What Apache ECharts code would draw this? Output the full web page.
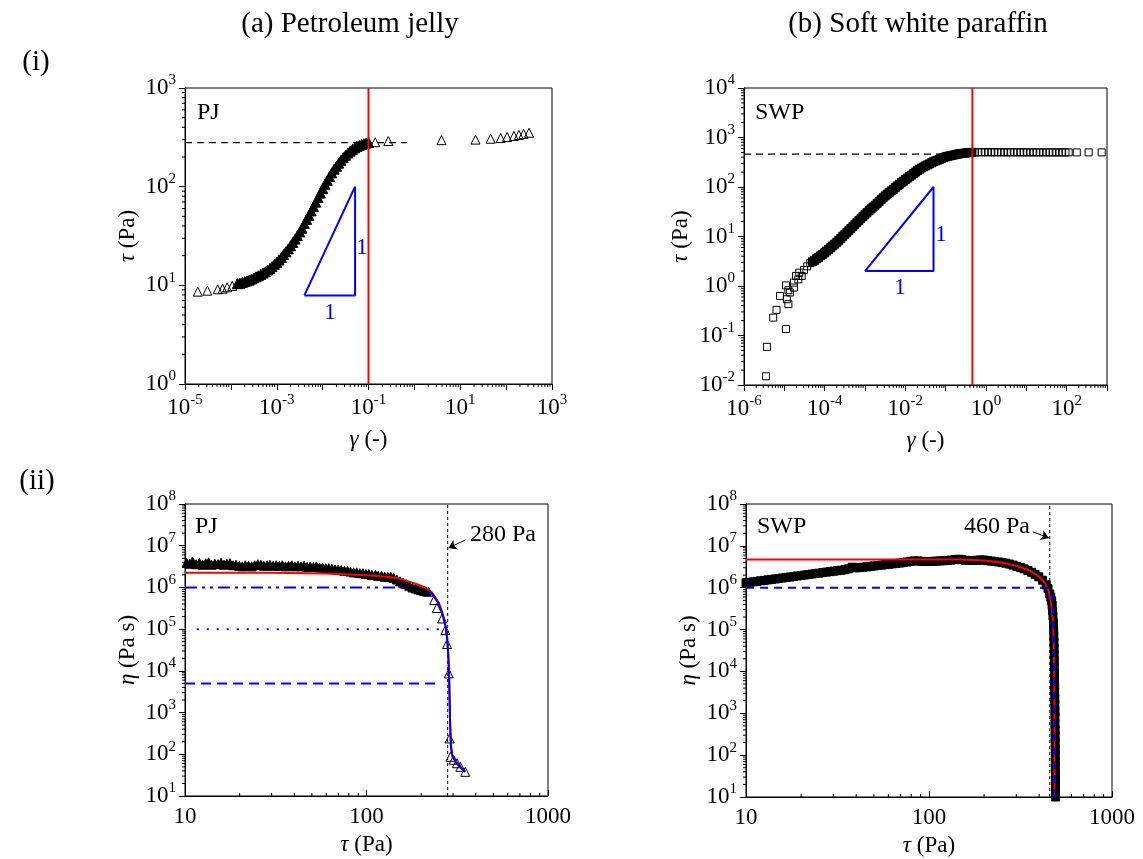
<!DOCTYPE html>
<html><head><meta charset="utf-8">
<script src="https://cdn.jsdelivr.net/npm/echarts@6/dist/echarts.min.js"></script>
<style>html,body{margin:0;padding:0;background:#fff}#c{width:1143px;height:859px}</style>
</head><body><div id="c"></div><script>
// ---------------- DATA ----------------
// (a)(i) Petroleum jelly: gamma (-), tau (Pa)
const pjStrainSparse = [[1.9e-5,8.63],[3.07e-5,8.83],[5.16e-5,9.12],[6.6e-5,9.25],[8.3e-5,9.55],[1.07e-4,9.86],[1.35e-4,10.3],
  [0.14,282],[0.27,290],[3.9,296],[21.5,300],[46,306],[76,311],[105,319],[148,327],[190,334],[240,343],[316,352]];
const pjStrainDense = [[1.41e-4,10.4],[1.58e-4,10.5],[1.78e-4,10.7],[2.0e-4,10.9],[2.24e-4,11.1],[2.51e-4,11.3],[2.82e-4,11.6],[3.16e-4,11.9],
  [3.55e-4,12.2],[3.98e-4,12.5],[4.47e-4,12.9],[5.01e-4,13.3],[5.62e-4,13.7],[6.31e-4,14.3],[7.08e-4,14.8],[7.94e-4,15.5],[8.91e-4,16.3],
  [1.0e-3,17.1],[1.12e-3,18.1],[1.26e-3,19.2],[1.41e-3,20.5],[1.58e-3,21.9],[1.78e-3,23.4],[2.0e-3,25.2],[2.24e-3,27.2],[2.51e-3,29.4],
  [2.82e-3,31.9],[3.16e-3,34.8],[3.55e-3,37.9],[3.98e-3,42.3],[4.47e-3,46.6],[5.01e-3,51.3],[5.62e-3,56.8],[6.31e-3,62.7],[7.08e-3,69.7],
  [7.94e-3,77.4],[8.91e-3,86.1],[0.01,95.9],[0.0112,106],[0.0126,116],[0.0141,127],[0.0158,138],[0.0178,150],[0.02,161],[0.0224,173],
  [0.0251,185],[0.0282,197],[0.0316,208],[0.0355,219],[0.0398,229],[0.0447,239],[0.0501,248],[0.0562,256],[0.0631,262],[0.0708,268],
  [0.0794,273],[0.0891,277],[0.1,280]];
const pjYieldStrain = 0.1;
const pjYieldStress = 280;
const pjSlopeTriangle = [[0.004,7.9],[0.051,100],[0.051,7.9],[0.004,7.9]];

// (b)(i) Soft white paraffin
const swpStrainSparse = [[3.5e-6,0.015],[3.7e-6,0.059],[5.3e-6,0.23],[6.4e-6,0.33],[7.8e-6,0.63],[1.1e-5,0.135],[1.1e-5,1.03],
  [1.15e-5,0.54],[1.26e-5,0.43],[1.26e-5,0.82],[1.38e-5,0.74],[1.73e-5,0.93],[1.73e-5,1.17],[1.95e-5,1.6],[2.22e-5,1.36],
  [2.35e-5,1.86],[2.69e-5,1.6],[3.07e-5,2.1],[3.7e-5,2.5],[4.4e-5,2.9]];
const swpStrainDense = [[5.01e-5,3.09],[5.62e-5,3.31],[6.31e-5,3.55],[7.08e-5,3.80],[7.94e-5,4.07],[8.91e-5,4.37],[1.0e-4,4.68],
  [1.12e-4,5.07],[1.26e-4,5.50],[1.41e-4,5.96],[1.58e-4,6.46],[1.78e-4,7.00],[2.0e-4,7.64],[2.24e-4,8.37],[2.51e-4,9.18],[2.82e-4,10.1],
  [3.16e-4,11.0],[3.55e-4,12.1],[3.98e-4,13.2],[4.47e-4,14.5],[5.01e-4,15.9],[5.62e-4,17.5],[6.31e-4,19.2],[7.08e-4,21.1],[7.94e-4,23.1],
  [8.91e-4,25.4],[1.0e-3,27.9],[1.12e-3,30.3],[1.26e-3,33.1],[1.41e-3,36.1],[1.58e-3,39.4],[1.78e-3,42.9],[2.0e-3,46.8],[2.24e-3,50.9],
  [2.51e-3,55.6],[2.82e-3,60.5],[3.16e-3,66.1],[3.55e-3,71.8],[3.98e-3,77.6],[4.47e-3,83.2],[5.01e-3,89.9],[5.62e-3,96.8],[6.31e-3,105],
  [7.08e-3,113],[7.94e-3,122],[8.91e-3,131],[0.01,141],[0.0112,151],[0.0126,162],[0.0141,173],[0.0158,186],[0.0178,200],[0.02,214],
  [0.0224,229],[0.0251,242],[0.0282,254],[0.0316,267],[0.0355,280],[0.0398,293],[0.0447,308],[0.0501,324],[0.0562,337],[0.0631,349],
  [0.0708,363],[0.0794,378],[0.0891,393],[0.1,407],[0.112,417],[0.126,425],[0.141,434],[0.158,443],[0.178,452],[0.2,461],[0.224,470],
  [0.251,476],[0.282,482],[0.316,486],[0.355,492],[0.398,497],[0.447,501]];
const swpStrainPlateau = [[0.537,502],[0.646,503],[0.776,503],[0.933,503],[1.12,503],[1.35,503],[1.62,503],[1.95,503],[2.34,502],
  [2.82,502],[3.39,502],[4.07,502],[4.9,502],[5.89,502],[7.08,502],[8.51,502],[10.2,501],[12.3,501],[14.8,501],[17.8,501],[21.4,500],
  [25.7,500],[30.9,500],[37.2,500],[44.7,500],[53.7,500],[64.6,500],[77.6,500],[93.3,500],[112,500],[178,500],[350,500],[740,500]];
const swpYieldStrain = 0.46;
const swpYieldStress = 460;
const swpSlopeTriangle = [[0.001,2],[0.05,100],[0.05,2],[0.001,2]];

// (a)(ii) Petroleum jelly flow curve: tau (Pa), eta (Pa s)
const pjFlowDense = [[10.2,3.9e6],[10.6,3.7e6],[11.0,4.2e6],[11.5,3.6e6],[12.0,3.9e6],[12.5,3.5e6],[13.0,3.8e6],[13.5,4.0e6],[14.0,3.5e6],
  [14.6,3.7e6],[15.2,3.6e6],[15.8,3.9e6],[16.4,3.5e6],[17.0,3.7e6],[17.7,3.8e6],[18.4,3.4e6],[19.1,3.5e6],[19.9,3.3e6],[20.7,3.2e6],
  [21.5,3.4e6],[22.4,3.3e6],[23.3,3.2e6],[24.2,3.4e6],[25.2,3.6e6],[26.2,3.5e6],[27.2,3.3e6],[28.3,3.4e6],[29.4,3.5e6],[30.6,3.3e6],
  [31.8,3.4e6],[33.1,3.3e6],[34.4,3.4e6],[35.8,3.2e6],[37.2,3.3e6],[38.7,3.4e6],[40.3,3.2e6],[41.9,3.3e6],[43.6,3.2e6],[45.3,3.3e6],
  [47.1,3.1e6],[49.0,3.2e6],[51.0,3.1e6],[53.0,3.2e6],[55.1,3.0e6],[57.3,3.0e6],[59.6,2.9e6],[62.0,2.9e6],[64.5,2.8e6],[67.1,2.7e6],
  [69.8,2.7e6],[72.6,2.6e6],[75.5,2.5e6],[78.5,2.5e6],[81.6,2.4e6],[84.9,2.3e6],[88.3,2.3e6],[91.8,2.2e6],[95.5,2.2e6],[99.3,2.1e6],
  [103,2.1e6],[107,2.0e6],[112,2.0e6],[116,1.9e6],[121,1.9e6],[126,1.8e6],[131,1.8e6],[136,1.8e6],[141,1.7e6],[147,1.55e6],[153,1.4e6],
  [159,1.3e6],[165,1.2e6],[172,1.1e6],[179,1.0e6],[186,9.5e5],[193,9.0e5],[200,8.6e5],[208,8.2e5],[214,8.0e5]];
const pjFlowSparse = [[220,7.9e5],[236,5.0e5],[244,3.2e5],[261,1.8e5],[272,9.5e4],[278,4.4e4],[284,8.7e3],[287,240],[290,87],
  [302,74],[315,61],[329,50],[350,38]];
const pjFitRed = [[10,2.25e6],[30,2.24e6],[60,2.15e6],[100,1.95e6],[130,1.8e6],[150,1.65e6],[170,1.4e6],[190,1.2e6],[210,1.0e6],
  [230,7.5e5],[250,4.3e5],[262,2.5e5],[272,1.3e5],[278,6.5e4],[282,2.7e4],[285,8.5e3],[287,2.2e3],[289,550],[292,160],[297,95],
  [310,66],[330,49],[350,38]];
const pjFitBlue = [[220,8.5e5],[235,6.2e5],[250,4.0e5],[262,2.3e5],[272,1.2e5],[278,6e4],[282,2.5e4],[285,8e3],[287,2e3],[289,500],
  [292,150],[297,90],[310,65],[330,48],[350,38]];
const pjLevelDashDot = [[10,1e6],[166,1e6]];
const pjLevelDot = [[11.6,1e5],[265,1e5]];
const pjLevelDash = [[10,5e3],[245,5e3]];

// (b)(ii) Soft white paraffin flow curve
const swpFlow = [[10,1.31e6],[10.5,1.35e6],[11.0,1.38e6],[11.5,1.42e6],[12.0,1.46e6],[12.6,1.50e6],[13.2,1.54e6],[13.8,1.58e6],
  [14.5,1.62e6],[15.1,1.66e6],[15.8,1.71e6],[16.6,1.76e6],[17.4,1.80e6],[18.2,1.85e6],[19.1,1.91e6],[20.0,1.95e6],[20.9,2.01e6],
  [21.9,2.06e6],[22.9,2.12e6],[24.0,2.18e6],[25.1,2.23e6],[26.3,2.30e6],[27.5,2.36e6],[28.8,2.42e6],[30.2,2.49e6],[31.6,2.55e6],
  [33.1,2.62e6],[34.7,2.69e6],[36.3,2.82e6],[38.0,3.09e6],[39.8,2.99e6],[41.7,3.02e6],[43.7,3.09e6],[45.7,3.16e6],[47.9,3.24e6],
  [50.1,3.31e6],[52.5,3.39e6],[55.0,3.47e6],[57.5,3.55e6],[60.3,3.63e6],[63.1,3.72e6],[66.1,3.80e6],[69.2,3.89e6],[72.4,3.98e6],
  [75.9,4.12e6],[79.4,4.27e6],[83.2,4.37e6],[87.1,4.35e6],[91.2,4.27e6],[95.5,4.22e6],[100,4.22e6],[105,4.27e6],[110,4.32e6],
  [115,4.37e6],[120,4.42e6],[126,4.47e6],[132,4.57e6],[138,4.68e6],[145,4.79e6],[151,4.73e6],[158,4.52e6],[166,4.47e6],[174,4.47e6],
  [182,4.52e6],[191,4.62e6],[200,4.57e6],[209,4.42e6],[219,4.32e6],[229,4.22e6],[240,4.12e6],[251,3.98e6],[263,3.85e6],[275,3.67e6],
  [288,3.47e6],[302,3.24e6],[316,3.02e6],[331,2.82e6],[347,2.57e6],[363,2.34e6],[380,2.09e6],[398,1.82e6],[417,1.51e6],[437,1.17e6],
  [447,9.5e5],[457,7.1e5],[463,5.9e5],[468,4.8e5],[471,3.8e5],[473,2.8e5],[476,2.1e5],[479,1.4e5],[480,1.0e5],[481,7e4],[482,5e4],
  [483,3.5e4],[483,2.5e4],[484,1.8e4],[484,1.25e4],[485,9e3],[485,6.3e3],[486,4.5e3],[486,3.2e3],[487,2.2e3],[487,1.6e3],[488,1.1e3],
  [488,800],[488,560],[489,400],[489,280],[489,200],[490,140],[490,100],[490,70],[490,50],[491,35],[491,25],[491,18],[491,12.5],[491,10]];
const swpFitRed = [[10,4.75e6],[150,4.75e6],[200,4.45e6],[250,4.0e6],[300,3.35e6],[350,2.65e6],[400,1.85e6],[430,1.3e6],[450,8.5e5],
  [465,4.5e5],[475,1.8e5],[480,6e4],[483,1.5e4],[484,3e3],[485,300],[485,10]];
const swpFitBlue = [[10,1e6],[440,1e6],[455,9e5],[468,6e5],[476,2.5e5],[481,5e4],[483,5e3],[484,300],[485,10]];
const pjYieldLabel = '280 Pa';
const swpYieldLabel = '460 Pa';

// tick label exponents / labels
const xLabA1 = [-5,-3,-1,1,3];
const yLabA1 = [0,1,2,3];
const xLabB1 = [-6,-4,-2,0,2];
const yLabB1 = [-2,-1,0,1,2,3,4];
const yLabII = [1,2,3,4,5,6,7,8];
const xLabII = ['10','100','1000'];

// ---------------- STYLE / LAYOUT ----------------
const F = '"Liberation Serif", "Times New Roman", serif';
const BLUE = '#0000ff', RED = '#ff0000';
const grids = [
  {left:185, top:88, width:367, height:296},
  {left:744, top:88, width:363, height:297},
  {left:185, top:504, width:363, height:292},
  {left:746, top:504, width:366, height:293}
];
const supRich = {
  b: {fontSize: 23, fontFamily: F, color: '#000', lineHeight: 30},
  s: {fontSize: 15, fontFamily: F, color: '#000', verticalAlign: 'top'}
};
function expFormatter(list) {
  return function (v) {
    const e = Math.round(Math.log10(v));
    if (list.indexOf(e) < 0) return '';
    return '{b|10}{s|' + e + '}';
  };
}
function plainFormatter(list) {
  return function (v) {
    const s = String(Math.round(v));
    return list.indexOf(s) >= 0 ? s : '';
  };
}
function logAxis(gi, min, max, fmt, isX, inside, name, gap) {
  return {
    type: 'log', logBase: 10, gridIndex: gi, min: min, max: max, interval: 1,
    axisLine: {show: true, lineStyle: {color: '#000', width: 1}},
    axisTick: {show: true, inside: !!inside, length: 6, lineStyle: {color: '#000', width: 1}},
    minorTick: {show: false},
    splitLine: {show: false},
    axisLabel: {formatter: fmt, rich: supRich, fontSize: 23, fontFamily: F, color: '#000', margin: 9,
      interval: 0, hideOverlap: false, showMinLabel: true, showMaxLabel: true},
    name: name, nameLocation: 'middle', nameGap: gap,
    nameTextStyle: {fontSize: 23, fontFamily: F, color: '#000',
      rich: {g: {fontStyle: 'italic', fontSize: 23, fontFamily: F, color: '#000'}}}
  };
}
function minorVals(min, max) {
  const out = [];
  for (let k = Math.floor(Math.log10(min)); k < Math.log10(max); k++) {
    for (let m = 2; m <= 9; m++) {
      const v = m * Math.pow(10, k);
      if (v > min && v < max) out.push(v);
    }
  }
  return out;
}
function minorSeries(gi, xmin, xmax, ymin, ymax, xInside) {
  const data = [];
  minorVals(xmin, xmax).forEach(v => data.push([v, ymin, 0]));
  minorVals(ymin, ymax).forEach(v => data.push([xmin, v, 1]));
  return {
    type: 'custom', xAxisIndex: gi, yAxisIndex: gi, silent: true, clip: false, z: 5,
    data: data,
    renderItem: function (params, api) {
      const p = api.coord([api.value(0), api.value(1)]);
      const isY = api.value(2) === 1;
      const shape = isY ? {x1: p[0], y1: p[1], x2: p[0] - 3, y2: p[1]}
                        : {x1: p[0], y1: p[1], x2: p[0], y2: p[1] + (xInside ? -3 : 3)};
      return {type: 'line', shape: shape, style: {stroke: '#000', lineWidth: 1}};
    }
  };
}
function lineS(gi, data, color, width, type, z) {
  return {type: 'line', xAxisIndex: gi, yAxisIndex: gi, data: data, symbol: 'none', showSymbol: false,
    silent: true, z: z || 3, lineStyle: {color: color, width: width, type: type || 'solid'}};
}
function scatterS(gi, data, symbol, size, filled, z) {
  return {type: 'scatter', xAxisIndex: gi, yAxisIndex: gi, data: data, symbol: symbol, symbolSize: size,
    silent: true, z: z || 2,
    itemStyle: {color: filled ? '#000' : 'rgba(255,255,255,0)', borderColor: '#000', borderWidth: 1, opacity: 1}};
}
function arrowLine(gi, from, to) {
  return {type: 'line', xAxisIndex: gi, yAxisIndex: gi, data: [], symbol: 'none',
    markLine: {silent: true, symbol: ['none', 'arrow'], symbolSize: 8, animation: false,
      lineStyle: {color: '#000', width: 1, type: 'solid'}, label: {show: false},
      data: [[{coord: from}, {coord: to}]]}};
}
function txt(x, y, text, size, color, align) {
  return {type: 'text', x: x, y: y, silent: true,
    style: {text: text, font: size + 'px ' + F, fill: color || '#000', align: align || 'center', verticalAlign: 'middle'}};
}

const option = {
  animation: false,
  backgroundColor: '#fff',
  grid: grids.map(g => Object.assign({show: true, borderColor: '#000', borderWidth: 1, containLabel: false,
    outerBoundsMode: 'none'}, g)),
  xAxis: [
    logAxis(0, 1e-5, 1e3, expFormatter(xLabA1), true, false, '{g|γ} (-)', 44),
    logAxis(1, 1e-6, 1e3, expFormatter(xLabB1), true, false, '{g|γ} (-)', 44),
    logAxis(2, 10, 1000, plainFormatter(xLabII), true, true, '{g|τ} (Pa)', 37),
    logAxis(3, 10, 1000, plainFormatter(xLabII), true, true, '{g|τ} (Pa)', 37)
  ],
  yAxis: [
    logAxis(0, 1, 1e3, expFormatter(yLabA1), false, false, '{g|τ} (Pa)', 46),
    logAxis(1, 1e-2, 1e4, expFormatter(yLabB1), false, false, '{g|τ} (Pa)', 52),
    logAxis(2, 10, 1e8, expFormatter(yLabII), false, false, '{g|η} (Pa s)', 46),
    logAxis(3, 10, 1e8, expFormatter(yLabII), false, false, '{g|η} (Pa s)', 46)
  ],
  graphic: [
    txt(350, 24, '(a) Petroleum jelly', 29),
    txt(918, 24, '(b) Soft white paraffin', 29),
    txt(36, 62, '(i)', 29),
    txt(37, 481, '(ii)', 29),
    txt(197, 113, 'PJ', 24, '#000', 'left'),
    txt(755, 113, 'SWP', 24, '#000', 'left'),
    txt(195, 527, 'PJ', 24, '#000', 'left'),
    txt(757, 527, 'SWP', 24, '#000', 'left'),
    txt(470, 535, pjYieldLabel, 24, '#000', 'left'),
    txt(1030, 527, swpYieldLabel, 24, '#000', 'right'),
    txt(330, 313, '1', 23, BLUE),
    txt(362, 248, '1', 23, BLUE),
    txt(900, 288, '1', 23, BLUE),
    txt(941, 235, '1', 23, BLUE)
  ],
  series: [
    // minor ticks
    minorSeries(0, 1e-5, 1e3, 1, 1e3, false),
    minorSeries(1, 1e-6, 1e3, 1e-2, 1e4, false),
    minorSeries(2, 10, 1000, 10, 1e8, true),
    minorSeries(3, 10, 1000, 10, 1e8, true),
    // (a)(i)
    lineS(0, [[1e-5, pjYieldStress], [0.7, pjYieldStress]], '#000', 1.3, [7, 5], 1),
    scatterS(0, pjStrainSparse, 'triangle', 9, false),
    scatterS(0, pjStrainDense, 'triangle', 10, true),
    lineS(0, [[pjYieldStrain, 1], [pjYieldStrain, 1e3]], RED, 2, 'solid', 4),
    lineS(0, pjSlopeTriangle, BLUE, 2, 'solid', 4),
    // (b)(i)
    lineS(1, [[1e-6, swpYieldStress], [swpYieldStrain, swpYieldStress]], '#000', 1.3, [7, 5], 1),
    scatterS(1, swpStrainSparse, 'rect', 7, false),
    scatterS(1, swpStrainDense, 'rect', 8, true),
    scatterS(1, swpStrainPlateau, 'rect', 7, false),
    lineS(1, [[swpYieldStrain, 1e-2], [swpYieldStrain, 1e4]], RED, 2, 'solid', 4),
    lineS(1, swpSlopeTriangle, BLUE, 2, 'solid', 4),
    // (a)(ii)
    lineS(2, [[pjYieldStress, 10], [pjYieldStress, 1e8]], '#000', 1, [3, 3], 1),
    scatterS(2, pjFlowDense, 'triangle', 9, true),
    scatterS(2, pjFlowSparse, 'triangle', 9, false),
    lineS(2, pjFitRed, RED, 2, 'solid', 3),
    lineS(2, pjFitBlue, BLUE, 2, 'solid', 4),
    lineS(2, pjLevelDashDot, BLUE, 2, [12, 5, 3, 5, 3, 5], 4),
    lineS(2, pjLevelDot, BLUE, 2, [2, 8], 4),
    lineS(2, pjLevelDash, BLUE, 2, [10, 6], 4),
    arrowLine(2, [350, 1.37e7], [283, 8.8e6]),
    // (b)(ii)
    lineS(3, [[457, 10], [457, 1e8]], '#000', 1, [3, 3], 1),
    scatterS(3, swpFlow, 'rect', 8, true),
    lineS(3, swpFitRed, RED, 2, 'solid', 3),
    lineS(3, swpFitBlue, BLUE, 2, [8, 6], 4),
    arrowLine(3, [369, 2.17e7], [452, 1.54e7])
  ]
};
const chart = echarts.init(document.getElementById('c'), null, {renderer: 'canvas'});
chart.setOption(option);
</script></body></html>
